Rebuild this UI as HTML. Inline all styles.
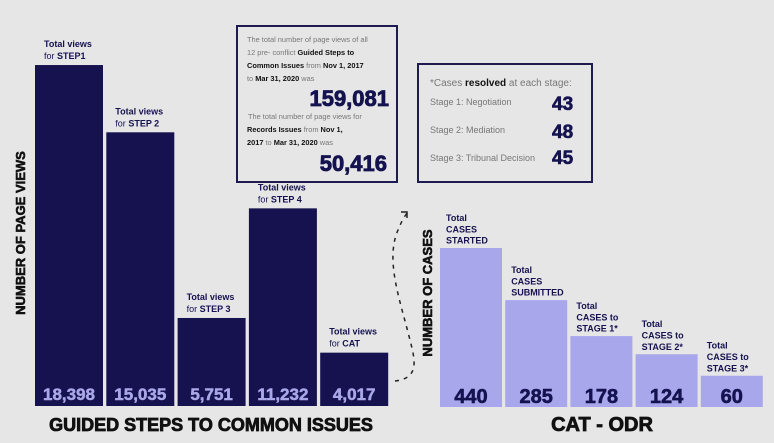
<!DOCTYPE html>
<html><head><meta charset="utf-8"><style>
body{margin:0;background:#e6e6e6;}
svg{display:block;font-family:"Liberation Sans",Arial,sans-serif;}
</style></head><body>
<svg id="c" width="774" height="443" viewBox="0 0 774 443">
<rect width="774" height="443" fill="#e6e6e6"/>
<g id="left"></g>
<g id="right"></g>
<text transform="translate(25,233) rotate(-90)" text-anchor="middle" font-size="13" font-weight="bold" fill="#111" stroke="#111" stroke-width="0.6">NUMBER OF PAGE VIEWS</text>
<text transform="translate(432,293) rotate(-90)" text-anchor="middle" font-size="13" font-weight="bold" fill="#111" stroke="#111" stroke-width="0.6">NUMBER OF CASES</text>
<text x="211" y="431" text-anchor="middle" font-size="18" font-weight="bold" fill="#111" stroke="#111" stroke-width="0.8">GUIDED STEPS TO COMMON ISSUES</text>
<text x="602" y="431" text-anchor="middle" font-size="20" font-weight="bold" fill="#111" stroke="#111" stroke-width="0.8">CAT - ODR</text>
<path d="M395,381 C420,378 415,360 410,340 C400,300 385,260 398,230 C402,220 405,216 407,213" fill="none" stroke="#222" stroke-width="1.5" stroke-dasharray="4,5"/>
<path d="M401,212 L407,212 L407,218" fill="none" stroke="#222" stroke-width="1.5"/>
<g>
<rect x="237" y="26" width="160" height="156" fill="none" stroke="#1d1b4f" stroke-width="2"/>
<g font-size="7.4" fill="#777">
<text x="247" y="42">The total number of page views of all</text>
<text x="247" y="55">12 pre- conflict <tspan font-weight="bold" fill="#111">Guided Steps to</tspan></text>
<text x="247" y="68"><tspan font-weight="bold" fill="#111">Common Issues</tspan> from <tspan font-weight="bold" fill="#111">Nov 1, 2017</tspan></text>
<text x="247" y="81">to <tspan font-weight="bold" fill="#111">Mar 31, 2020</tspan> was</text>
<text x="248" y="119">The total number of page views for</text>
<text x="247" y="132"><tspan font-weight="bold" fill="#111">Records Issues</tspan> from <tspan font-weight="bold" fill="#111">Nov 1,</tspan></text>
<text x="247" y="145"><tspan font-weight="bold" fill="#111">2017</tspan> to <tspan font-weight="bold" fill="#111">Mar 31, 2020</tspan> was</text>
</g>
<text x="389" y="106" text-anchor="end" font-size="22" font-weight="bold" fill="#14124f" stroke="#14124f" stroke-width="0.8">159,081</text>
<text x="387" y="171" text-anchor="end" font-size="22" font-weight="bold" fill="#14124f" stroke="#14124f" stroke-width="0.8">50,416</text>
</g>
<g>
<rect x="418" y="64" width="174" height="118" fill="none" stroke="#1d1b4f" stroke-width="2"/>
<text x="430" y="86" font-size="10" fill="#777">*Cases <tspan font-weight="bold" fill="#111">resolved</tspan> at each stage:</text>
<text x="430" y="105" font-size="9" fill="#777">Stage 1: Negotiation</text>
<text x="430" y="133" font-size="9" fill="#777">Stage 2: Mediation</text>
<text x="430" y="161" font-size="9" fill="#777">Stage 3: Tribunal Decision</text>
<text x="552" y="110" font-size="19" font-weight="bold" fill="#14124f" stroke="#14124f" stroke-width="0.6">43</text>
<text x="552" y="138" font-size="19" font-weight="bold" fill="#14124f" stroke="#14124f" stroke-width="0.6">48</text>
<text x="552" y="164" font-size="19" font-weight="bold" fill="#14124f" stroke="#14124f" stroke-width="0.6">45</text>
</g>
</svg>
<script>
const leftCategories = ["STEP1","STEP 2","STEP 3","STEP 4","CAT"];
const leftValues = [18398, 15035, 5751, 11232, 4017];
const leftValueLabels = ["18,398","15,035","5,751","11,232","4,017"];
const rightCategories = [["CASES","STARTED"],["CASES","SUBMITTED"],["CASES to","STAGE 1*"],["CASES to","STAGE 2*"],["CASES to","STAGE 3*"]];
const rightValues = [440, 285, 178, 124, 60];

const NS = "http://www.w3.org/2000/svg";
function mk(tag, attrs, parent){const e=document.createElementNS(NS,tag);for(const k in attrs)e.setAttribute(k,attrs[k]);parent.appendChild(e);return e;}

// left axis (linear scale with offset baseline)
const lBase=406;
const lY = v => lBase - Math.max(20, v*0.02 - 27);
const lX0=35, lStep=71.3, lW=68;
const L=document.getElementById('left');
leftValues.forEach((v,i)=>{
  const x=lX0+i*lStep, y=lY(v);
  const r=mk('rect',{x:x,y:y,width:lW,height:lBase-y,fill:'#15124f'},L);
  
  
  const t=mk('text',{x:x+lW/2,y:lBase-6,'text-anchor':'middle','font-size':'17','font-weight':'bold',fill:'#a9a7e8',stroke:'#a9a7e8','stroke-width':'0.5'},L);
  t.textContent=leftValueLabels[i];
  
  
  const a=mk('text',{x:x+9,y:y-18,'font-size':'9','font-weight':'bold',fill:'#15124f'},L);
  a.textContent='Total views';
  
  
  const b=mk('text',{x:x+9,y:y-6,'font-size':'9',fill:'#15124f'},L);
  b.innerHTML='for <tspan font-weight="bold">'+leftCategories[i]+'</tspan>';
  
  
});

// right axis (linear with offset)
const rBase=407;
const rY = v => rBase - (v+33)*159/473;
const rX0=440, rStep=65.2, rW=62;
const R=document.getElementById('right');
rightValues.forEach((v,i)=>{
  const x=rX0+i*rStep, y=rY(v);
  const r=mk('rect',{x:x,y:y,width:rW,height:rBase-y,fill:'#a9a7ec'},R);
  
  
  const t=mk('text',{x:x+rW/2,y:rBase-4,'text-anchor':'middle','font-size':'20','font-weight':'bold',fill:'#14124f',stroke:'#14124f','stroke-width':'0.6'},R);
  t.textContent=String(v);
  
  
  const lines=['Total',rightCategories[i][0],rightCategories[i][1]];
  lines.forEach((s,j)=>{
    const c=mk('text',{x:x+6,y:y-27+j*11.3,'font-size':'9','font-weight':'bold',fill:'#15124f'},R);
    c.textContent=s;
    
    
  });
});
</script>
</body></html>
